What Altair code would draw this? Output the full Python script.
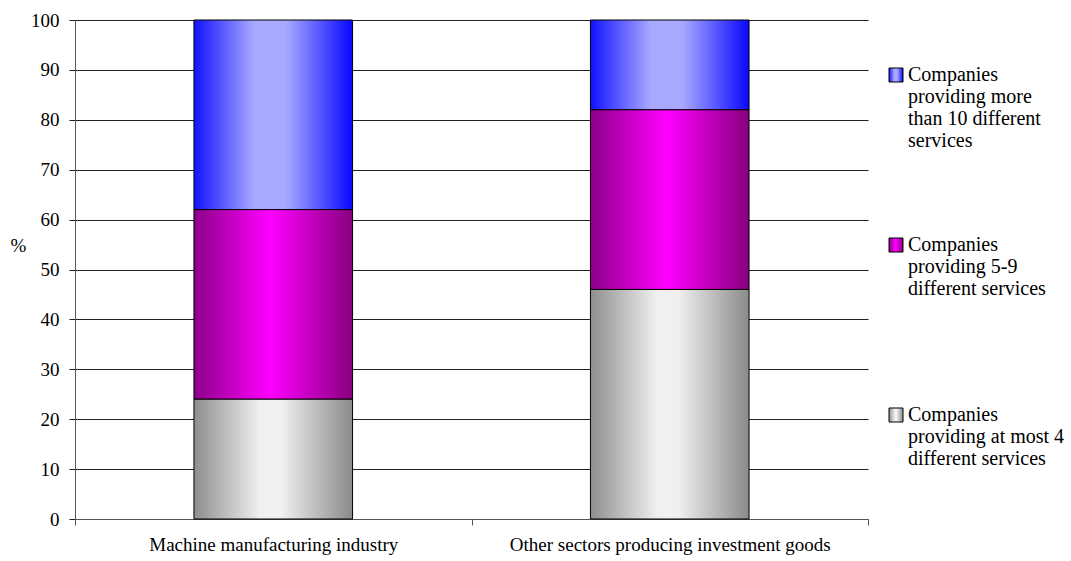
import json

import altair as alt
import pandas as pd

# Sectors on the x axis
sectors = ["Machine manufacturing industry", "Other sectors producing investment goods"]

# Service groups, listed top to bottom as in the legend
groups = [
    "Companies providing more than 10 different services",
    "Companies providing 5-9 different services",
    "Companies providing at most 4 different services",
]
# Legend text broken into lines; every entry padded to four lines so the
# entries get the same height
group_lines = [
    ["Companies", "providing more", "than 10 different", "services"],
    ["Companies", "providing 5-9", "different services", ""],
    ["Companies", "providing at most 4", "different services", ""],
]

# Share of companies (%) per sector, one list per group
share_many = [38, 18]
share_mid = [38, 36]
share_few = [24, 46]

# Stacking position of each group, 0 = bottom of the bar
stack_rank = [2, 1, 0]

# Horizontal gradient of each group: (offset, colour) stops, dark edges and a light centre
gradient_stops = [
    [(0, "#1212ff"), (0.38, "#a8a8ff"), (0.58, "#a8a8ff"), (1, "#0808ff")],
    [(0, "#8c0088"), (0.48, "#ff00ff"), (1, "#88007e")],
    [(0, "#8e8e8e"), (0.42, "#f0f0f0"), (0.55, "#f0f0f0"), (1, "#8a8a8a")],
]

rows = []
for g, rank, shares in zip(groups, stack_rank, [share_many, share_mid, share_few]):
    for s, v in zip(sectors, shares):
        rows.append({"sector": s, "group": g, "share": v, "rank": rank})
df = pd.DataFrame(rows)


def gradient_expr(stops):
    parts = ", ".join(f"{{offset: {o}, color: '{c}'}}" for o, c in stops)
    return f"{{gradient: 'linear', x1: 0, y1: 0, x2: 1, y2: 0, stops: [{parts}]}}"


color_range = [alt.ExprRef(expr=gradient_expr(s)) for s in gradient_stops]

label_map = json.dumps(dict(zip(groups, group_lines)))
label_expr = f"{label_map}[datum.label]"

FONT = "Liberation Serif"

chart = (
    alt.Chart(df)
    .mark_bar(width=alt.RelativeBandSize(0.4), stroke="black", strokeWidth=1)
    .encode(
        x=alt.X(
            "sector:N",
            sort=sectors,
            scale=alt.Scale(paddingInner=0, paddingOuter=0),
            axis=alt.Axis(
                title=None,
                labelAngle=0,
                labelLimit=0,
                tickBand="extent",
                tickSize=6,
                labelPadding=10,
                grid=False,
                labelFontSize=19,
                labelColor="black",
                labelFont=FONT,
                domainColor="#555555",
                tickColor="#555555",
            ),
        ),
        y=alt.Y(
            "share:Q",
            stack="zero",
            scale=alt.Scale(domain=[0, 100], nice=False),
            axis=alt.Axis(
                title="%",
                titleAngle=0,
                titleX=-57,
                titleY=225,
                titleAlign="center",
                titleBaseline="middle",
                titleFont=FONT,
                titleFontSize=19,
                titleFontWeight="normal",
                titleColor="black",
                values=list(range(0, 101, 10)),
                tickSize=6,
                labelPadding=10,
                labelFontSize=19,
                labelFont=FONT,
                labelColor="black",
                grid=True,
                gridColor="#202020",
                domainColor="#555555",
                tickColor="#202020",
            ),
        ),
        color=alt.Color(
            "group:N",
            scale=alt.Scale(domain=groups, range=color_range),
            legend=alt.Legend(
                title=None,
                orient="none",
                legendX=811,
                legendY=45,
                symbolType="square",
                symbolSize=196,
                symbolStrokeColor="black",
                symbolStrokeWidth=1,
                labelFont=FONT,
                labelFontSize=20,
                labelColor="black",
                labelOffset=2,
                labelBaseline="middle",
                labelExpr=label_expr,
                labelLimit=0,
                rowPadding=84,
                padding=0,
            ),
        ),
        order=alt.Order("rank:Q"),
    )
    .properties(
        width=793,
        height=499,
        autosize=alt.AutoSizeParams(type="none"),
        padding={"left": 75, "top": 20, "right": 203, "bottom": 42},
        background="white",
    )
    .configure_view(stroke=None)
)

chart.save("out.html", embed_options={"renderer": "svg", "actions": False})
